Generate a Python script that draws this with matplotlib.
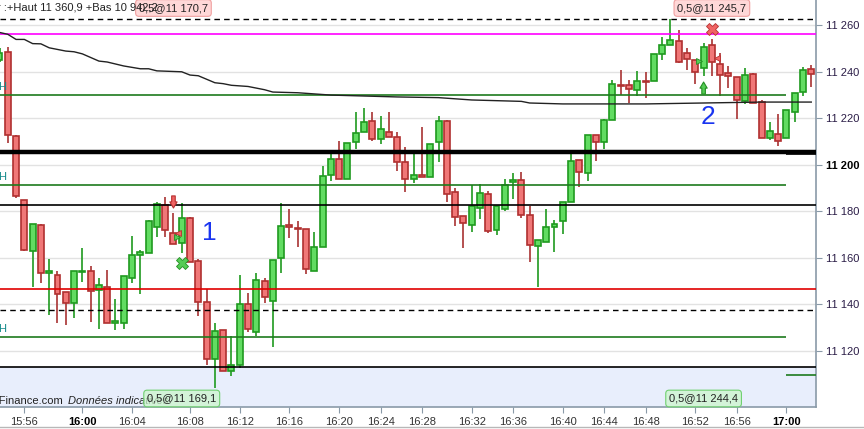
import numpy as np
import matplotlib
matplotlib.use('Agg')
import matplotlib.pyplot as plt
import matplotlib.transforms as mtransforms
from matplotlib.lines import Line2D
from matplotlib.ticker import FuncFormatter

plt.rcParams['font.family'] = ['Liberation Sans', 'DejaVu Sans']

# candles (one per bar, x axis is the bar number)
opens = [11245.0, 11248.2, 11212.2, 11184.7, 11162.8, 11174.0, 11153.4, 11152.5, 11145.2, 11140.5,
         11153.8, 11154.2, 11146.1, 11147.4, 11131.9, 11131.9, 11151.2, 11161.1, 11162.0, 11173.1,
         11182.6, 11170.6, 11166.3, 11177.0, 11158.5, 11140.9, 11116.5, 11128.9, 11111.3, 11113.9,
         11140.1, 11128.1, 11150.0, 11141.4, 11159.8, 11174.1, 11172.5, 11172.3, 11154.2, 11164.5,
         11195.5, 11202.3, 11193.7, 11209.6, 11213.9, 11218.6, 11210.9, 11213.9, 11211.8, 11201.0,
         11193.7, 11195.5, 11194.6, 11209.6, 11218.6, 11188.2, 11177.8, 11174.0, 11181.3, 11187.3,
         11171.8, 11180.9, 11192.4, 11193.3, 11178.3, 11165.0, 11166.7, 11173.1, 11175.7, 11183.9,
         11201.9, 11196.3, 11212.6, 11209.6, 11219.0, 11234.2, 11234.1, 11231.9, 11236.0, 11235.8,
         11247.4, 11251.2, 11253.0, 11247.8, 11244.8, 11241.4, 11251.2, 11243.1, 11239.2, 11237.5,
         11227.2, 11238.8, 11226.8, 11211.3, 11213.0, 11211.3, 11222.5, 11231.1, 11240.9]
highs = [11250.0, 11250.6, 11212.6, 11184.7, 11174.4, 11174.5, 11159.4, 11154.2, 11145.3, 11154.2,
         11164.1, 11156.4, 11151.2, 11154.7, 11142.2, 11152.1, 11169.3, 11163.3, 11176.3, 11183.9,
         11186.0, 11179.1, 11183.4, 11177.4, 11159.4, 11146.5, 11131.9, 11129.0, 11126.4, 11152.5,
         11144.8, 11153.4, 11151.2, 11159.0, 11183.4, 11181.0, 11175.8, 11172.4, 11171.0, 11199.3,
         11204.5, 11210.0, 11209.2, 11222.5, 11224.2, 11222.5, 11220.8, 11222.5, 11213.9, 11207.5,
         11204.9, 11216.4, 11208.7, 11220.8, 11219.0, 11189.9, 11178.0, 11191.2, 11191.6, 11188.6,
         11182.1, 11193.9, 11196.3, 11196.7, 11182.1, 11167.5, 11180.9, 11176.1, 11183.9, 11204.5,
         11201.9, 11212.6, 11212.6, 11219.5, 11236.2, 11240.5, 11236.2, 11240.1, 11240.0, 11247.4,
         11254.7, 11262.4, 11257.7, 11250.0, 11245.0, 11252.1, 11253.8, 11247.8, 11242.2, 11237.5,
         11241.4, 11239.2, 11227.6, 11218.2, 11221.6, 11223.3, 11230.6, 11241.8, 11242.7]
lows = [11244.0, 11209.2, 11185.8, 11162.8, 11147.6, 11149.4, 11135.4, 11132.2, 11131.0, 11134.0,
        11149.8, 11132.6, 11129.4, 11131.9, 11128.9, 11129.4, 11149.1, 11144.4, 11162.0, 11168.8,
        11168.8, 11165.8, 11162.2, 11158.1, 11134.9, 11113.9, 11104.0, 11111.3, 11109.3, 11112.6,
        11128.1, 11126.6, 11140.5, 11121.6, 11153.4, 11168.4, 11164.5, 11153.0, 11154.2, 11164.5,
        11192.9, 11193.7, 11193.7, 11206.6, 11213.9, 11210.0, 11208.7, 11211.8, 11197.2, 11188.1,
        11192.0, 11194.6, 11194.6, 11201.0, 11184.1, 11173.8, 11164.4, 11171.2, 11176.6, 11170.8,
        11169.7, 11180.0, 11185.2, 11177.0, 11158.1, 11147.4, 11166.7, 11162.4, 11170.1, 11183.9,
        11190.3, 11192.9, 11201.5, 11206.6, 11219.0, 11229.9, 11226.4, 11229.4, 11228.5, 11235.8,
        11244.8, 11251.2, 11243.5, 11240.5, 11234.5, 11237.9, 11237.9, 11229.4, 11232.8, 11219.5,
        11225.9, 11226.4, 11211.4, 11210.5, 11207.9, 11211.3, 11218.2, 11229.4, 11233.2]
closes = [11248.0, 11212.6, 11186.4, 11163.3, 11174.4, 11153.4, 11154.2, 11144.4, 11140.5, 11154.2,
          11154.2, 11145.7, 11148.2, 11131.9, 11132.8, 11152.1, 11161.1, 11162.4, 11175.7, 11183.0,
          11171.8, 11165.8, 11177.0, 11158.1, 11140.9, 11116.5, 11128.5, 11111.3, 11113.9, 11140.1,
          11129.4, 11150.4, 11143.1, 11159.0, 11173.6, 11173.1, 11172.2, 11155.1, 11164.5, 11195.0,
          11202.3, 11193.7, 11209.2, 11213.5, 11218.2, 11210.9, 11215.2, 11211.8, 11201.0, 11193.7,
          11195.5, 11194.6, 11208.7, 11218.6, 11187.3, 11177.4, 11174.8, 11182.1, 11187.7, 11171.4,
          11182.1, 11191.2, 11193.3, 11178.3, 11165.4, 11167.5, 11173.1, 11174.4, 11183.9, 11201.5,
          11196.7, 11212.6, 11209.6, 11219.0, 11234.5, 11233.8, 11232.4, 11235.8, 11235.6, 11247.4,
          11251.2, 11253.4, 11244.0, 11245.2, 11239.6, 11250.4, 11244.0, 11238.4, 11237.9, 11227.6,
          11238.4, 11226.4, 11211.4, 11214.3, 11210.0, 11223.3, 11230.6, 11240.5, 11238.8]

# moving average read at some bars
ma_idx = [0, 1, 2, 3, 4, 5, 6, 8, 9, 10, 12, 13, 15, 17, 18, 19, 22, 23, 24, 26, 27, 28, 30, 32, 33,
          36, 40, 44, 48, 53, 57, 63, 64, 68, 72, 78, 85, 92, 98]
ma_val = [11256.8, 11256.0, 11253.8, 11253.8, 11252.0, 11251.9, 11250.2, 11248.8, 11248.5, 11247.6,
          11244.5, 11244.1, 11242.4, 11241.2, 11241.2, 11240.3, 11239.9, 11238.5, 11238.2, 11235.2,
          11234.8, 11234.1, 11233.6, 11232.2, 11231.2, 11230.9, 11229.9, 11229.5, 11229.1, 11228.8,
          11227.8, 11227.2, 11226.5, 11226.1, 11226.1, 11226.1, 11226.5, 11226.9, 11226.9]

# horizontal levels
black_levels = [11182.6, 11113.1]
thick_level = 11205.6
dashed_levels = [11262.4, 11137.5]
magenta_level = 11256.0
red_level = 11146.5
green_levels = [11229.8, 11191.2, 11126.0]
right_black = 11204.5
right_green = 11109.6
end_bar = 95

# trades
trade_idx = [21, 22, 85, 86]
trade_price = [11170.7, 11169.1, 11244.4, 11245.7]
trade_side = ['sell', 'buy', 'buy', 'sell']
trade_kind = ['entry', 'exit', 'entry', 'exit']

tick_idx = [3, 10, 16, 23, 29, 35, 41, 46, 51, 57, 62, 68, 73, 78, 84, 89, 95]
tick_labels = ['15:56', '16:00', '16:04', '16:08', '16:12', '16:16', '16:20', '16:24', '16:28',
               '16:32', '16:36', '16:40', '16:44', '16:48', '16:52', '16:56', '17:00']
price_ticks = [11120, 11140, 11160, 11180, 11200, 11220, 11240, 11260]

notes = ['1', '2']
note_idx = [25.3, 85.5]
note_price = [11170.8, 11220.5]

def fmt_price(v, dec=0):
    s = f'{v:,.{dec}f}'
    return s.replace(',', ' ').replace('.', ',')

o = np.array(opens); h = np.array(highs); l = np.array(lows); c = np.array(closes)
x = np.arange(len(o))

fig = plt.figure(figsize=(8.64, 4.29), dpi=100)
ax = fig.add_axes([0, 22/429, 816/864, 407/429])
y0, y1 = 11095.95, 11270.73
ax.set_xlim(0.06, 98.57)
ax.set_ylim(y0, y1)

ax.axhspan(y0, black_levels[-1], color='#e8eefc', zorder=0, lw=0)
for t in price_ticks:
    ax.axhline(t, color='#e2e2e2', lw=1, zorder=0.5)

up = c >= o
bot = np.minimum(o, c)
hgt = np.maximum(np.abs(c - o), 0.45)
ax.vlines(x[up], l[up], h[up], colors='#1f9a1f', lw=1.2, zorder=2)
ax.vlines(x[~up], l[~up], h[~up], colors='#a83232', lw=1.2, zorder=2)
ax.bar(x[up], hgt[up], bottom=bot[up], width=0.72, color='#62dc62', edgecolor='#1f9a1f', lw=1.2, zorder=3)
ax.bar(x[~up], hgt[~up], bottom=bot[~up], width=0.72, color='#f07777', edgecolor='#b03030', lw=1.2, zorder=3)

xmin, xmax = ax.get_xlim()
ax.hlines(black_levels, xmin, xmax, colors='black', lw=1.2, zorder=4)
ax.hlines(thick_level, xmin, xmax, colors='black', lw=3.2, zorder=4)
ax.hlines(dashed_levels, xmin, xmax, colors='black', lw=1, linestyles=(0, (4, 3)), zorder=4)
ax.hlines(magenta_level, xmin, xmax, colors='#ff00ff', lw=1.2, zorder=4)
ax.hlines(red_level, xmin, xmax, colors='#e00000', lw=1.2, zorder=4)
ax.hlines(green_levels, xmin, end_bar, colors='#1e7a1e', lw=1.2, zorder=4)
ax.hlines(right_black, end_bar, xmax, colors='black', lw=1.2, zorder=4)
ax.hlines(right_green, end_bar, xmax, colors='#1e7a1e', lw=1.2, zorder=4)
for g in green_levels:
    ax.text(xmin - 0.25, g + 1.3, 'H', color='#138a8a', fontsize=8, ha='left', va='bottom', zorder=5)

ax.plot(ma_idx, ma_val, color='#222222', lw=1, zorder=4)

trans = mtransforms.blended_transform_factory(ax.transData, ax.transAxes)
for i, p, side, kind in zip(trade_idx, trade_price, trade_side, trade_kind):
    if side == 'sell':
        fc, ec = '#f06464', '#b83030'
        ax.plot(i + 0.6, p, marker='<', ms=5, color=fc, mec=ec, mew=0.6, zorder=6)
        if kind == 'entry':
            ax.annotate('', xy=(i, h[i] + 2.3), xytext=(i, h[i] + 7.5),
                        arrowprops=dict(arrowstyle='simple,head_length=0.55,head_width=0.65,tail_width=0.32',
                                        fc=fc, ec=ec, lw=0.8, shrinkA=0, shrinkB=0, mutation_scale=8), zorder=6)
        else:
            ax.plot(i, h[i] + 4.4, marker='X', ms=8, color=fc, mec=ec, mew=0.6, zorder=6)
        ax.text(i, 1 - 8/407, '0,5@' + fmt_price(p, 1), transform=trans, ha='center', va='center',
                fontsize=8, color='#222222', zorder=7,
                bbox=dict(boxstyle='round,pad=0.3', fc=(1, 0.8, 0.8, 0.75), ec='#f0a0a0', lw=0.8))
    else:
        fc, ec = '#55cc55', '#238f23'
        ax.plot(i - 0.6, p, marker='>', ms=5, color=fc, mec=ec, mew=0.6, zorder=6)
        if kind == 'entry':
            ax.annotate('', xy=(l[i] * 0 + i, l[i] - 2.4), xytext=(i, l[i] - 7.6),
                        arrowprops=dict(arrowstyle='simple,head_length=0.55,head_width=0.65,tail_width=0.32',
                                        fc=fc, ec=ec, lw=0.8, shrinkA=0, shrinkB=0, mutation_scale=8), zorder=6)
        else:
            ax.plot(i, l[i] - 4.2, marker='X', ms=8, color=fc, mec=ec, mew=0.6, zorder=6)
        ax.text(i, 8.5/407, '0,5@' + fmt_price(p, 1), transform=trans, ha='center', va='center',
                fontsize=8, color='#222222', zorder=7,
                bbox=dict(boxstyle='round,pad=0.3', fc=(0.8, 0.96, 0.8, 0.75), ec='#70d070', lw=0.8))

for s, i, p in zip(notes, note_idx, note_price):
    ax.text(i, p, s, color='#1a35f0', fontsize=19, ha='center', va='center', zorder=6)

ax.text(-4/816, 6/407, '-Finance.com', transform=ax.transAxes, fontsize=8, color='#222222',
        ha='left', va='center', zorder=5)
ax.text(68/816, 6/407, 'Données indicatives', transform=ax.transAxes, fontsize=8, style='italic',
        color='#222222', ha='left', va='center', zorder=5)
fig.text(-3/864, 1 - 8/429, 'r :+Haut 11 360,9 +Bas 10 942,2', fontsize=8, color='#222222',
         ha='left', va='center')

ax.spines['left'].set_visible(False)
ax.spines['top'].set_visible(False)
for sp in ['right', 'bottom']:
    ax.spines[sp].set_color('#8a9aa8')
    ax.spines[sp].set_linewidth(1.2)

ax.yaxis.tick_right()
ax.set_yticks(price_ticks)
ax.yaxis.set_major_formatter(FuncFormatter(lambda v, pos: fmt_price(v)))
ax.tick_params(axis='y', direction='out', length=4, color='#8a9aa8', labelsize=8, pad=3,
               labelcolor='#2b1d47')
for lab in ax.get_yticklabels():
    if lab.get_text() == '11 200':
        lab.set_fontweight('bold')
        lab.set_color('black')

ax.set_xticks(tick_idx)
ax.set_xticklabels(tick_labels)
ax.tick_params(axis='x', direction='out', length=4, color='#8a9aa8', labelsize=8, pad=3,
               labelcolor='#333333')
for lab in ax.get_xticklabels():
    if lab.get_text().endswith(':00'):
        lab.set_fontweight('bold')
        lab.set_color('black')

fig.add_artist(Line2D([0, 1], [2/429, 2/429], color='#b8b8b8', lw=1, transform=fig.transFigure))

fig.savefig('out.png', dpi=100)
